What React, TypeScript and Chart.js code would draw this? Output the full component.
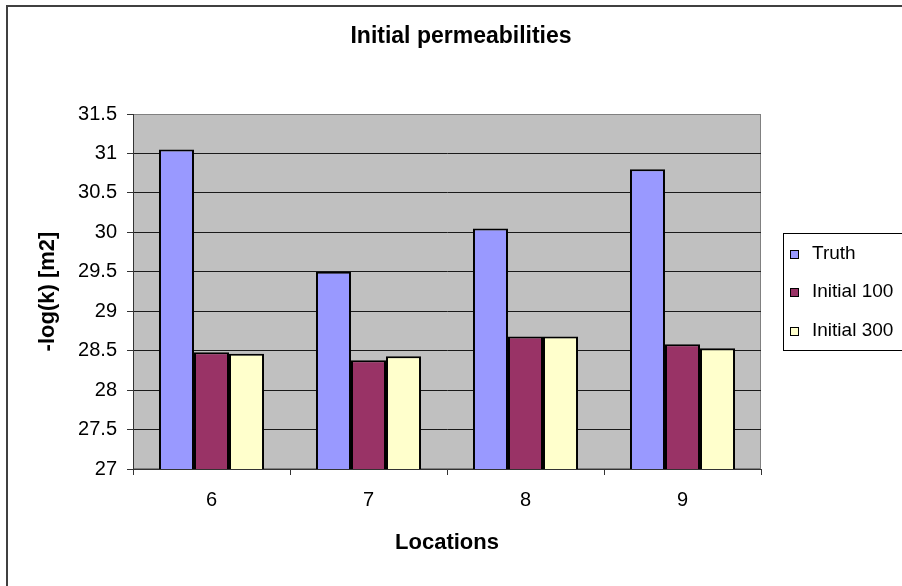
import React, { useEffect, useRef } from 'react';
import { Chart, registerables } from 'chart.js';

Chart.register(...registerables);

const chartTitle = 'Initial permeabilities';
const xTitle = 'Locations';
const yTitle = '-log(k) [m2]';
const categories = ['6', '7', '8', '9'];
const seriesNames = ['Truth', 'Initial 100', 'Initial 300'];
const truth = [31.05, 29.5, 30.05, 30.8];
const initial100 = [28.48, 28.38, 28.68, 28.58];
const initial300 = [28.46, 28.43, 28.68, 28.53];
const seriesColors = ['#9999FF', '#993366', '#FFFFCC'];
const yMin = 27;
const yMax = 31.5;
const yStep = 0.5;

const FONT = '"Liberation Sans", Arial, sans-serif';

const framePlugin = {
  id: 'framePlugin',
  beforeDraw(chart: any) {
    const { ctx, chartArea: a } = chart;
    ctx.save();
    ctx.fillStyle = '#FFFFFF';
    ctx.fillRect(0, 0, chart.width, chart.height);
    ctx.fillStyle = '#C0C0C0';
    ctx.fillRect(a.left, a.top, a.right - a.left, a.bottom - a.top);
    ctx.strokeStyle = '#808080';
    ctx.lineWidth = 1;
    ctx.strokeRect(a.left + 0.5, a.top + 0.5, a.right - a.left - 1, a.bottom - a.top - 1);
    ctx.restore();
  },
  afterDraw(chart: any) {
    const { ctx } = chart;
    ctx.save();
    // outer chart border
    ctx.strokeStyle = '#404040';
    ctx.lineWidth = 2;
    ctx.strokeRect(7, 6, 920, 600);
    // title
    ctx.fillStyle = '#000';
    ctx.font = `bold 23px ${FONT}`;
    ctx.textAlign = 'center';
    ctx.textBaseline = 'middle';
    ctx.fillText(chartTitle, 461, 37);
    // legend
    ctx.fillStyle = '#FFFFFF';
    ctx.fillRect(783, 233, 140, 117);
    ctx.strokeStyle = '#000';
    ctx.lineWidth = 1;
    ctx.strokeRect(783.5, 233.5, 140, 117);
    const ys = [253.5, 292, 330.5];
    ctx.font = `19px ${FONT}`;
    ctx.textAlign = 'left';
    chart.data.datasets.forEach((ds: any, i: number) => {
      const y = ys[i];
      ctx.fillStyle = ds.backgroundColor;
      ctx.fillRect(790, Math.round(y - 4), 8, 8);
      ctx.strokeStyle = '#000';
      ctx.strokeRect(790.5, Math.round(y - 4) + 0.5, 8, 8);
      ctx.fillStyle = '#000';
      ctx.fillText(ds.label, 812, y);
    });
    ctx.restore();
  },
};

export default function App() {
  const ref = useRef<HTMLCanvasElement>(null);
  useEffect(() => {
    if (!ref.current) return;
    const values = [truth, initial100, initial300];
    const chart = new Chart(ref.current, {
      type: 'bar',
      data: {
        labels: categories,
        datasets: seriesNames.map((name, i) => ({
          label: name,
          data: values[i],
          backgroundColor: seriesColors[i],
          borderColor: '#000000',
          borderWidth: 2,
          categoryPercentage: 0.669,
          barPercentage: 1,
        })),
      },
      options: {
        animation: false,
        responsive: true,
        maintainAspectRatio: false,
        layout: { padding: { top: 114, right: 141, left: 0, bottom: 0 } },
        plugins: {
          legend: { display: false },
          title: { display: false },
          tooltip: { enabled: false },
        },
        scales: {
          x: {
            afterFit: (s: any) => { s.height = 117; },
            grid: {
              offset: true,
              drawOnChartArea: false,
              drawTicks: true,
              tickLength: 6,
              color: '#333333',
            },
            border: { color: '#333333', width: 1 },
            ticks: { color: '#000', font: { family: FONT, size: 20 }, padding: 13 },
            title: {
              display: true,
              text: xTitle,
              color: '#000',
              font: { family: FONT, size: 22, weight: 'bold' },
              padding: { top: 0, bottom: 30 },
            },
          },
          y: {
            min: yMin,
            max: yMax,
            afterFit: (s: any) => { s.width = 133; },
            grid: {
              color: (c: any) => (c.tick && c.tick.value === yMax ? '#808080' : '#1A1A1A'),
              tickColor: '#333333',
              tickLength: 6,
              drawTicks: true,
            },
            border: { color: '#333333', width: 1 },
            ticks: {
              stepSize: yStep,
              color: '#000',
              font: { family: FONT, size: 20 },
              padding: 10,
              callback: (v: any) => String(v),
            },
            title: {
              display: true,
              text: yTitle,
              color: '#000',
              font: { family: FONT, size: 22, weight: 'bold' },
              padding: { top: 35, bottom: 0 },
            },
          },
        },
      } as any,
      plugins: [framePlugin],
    });
    return () => chart.destroy();
  }, []);
  return (
    <div style={{ position: 'absolute', left: 0, top: 0, width: 902, height: 586 }}>
      <canvas ref={ref} />
    </div>
  );
}
